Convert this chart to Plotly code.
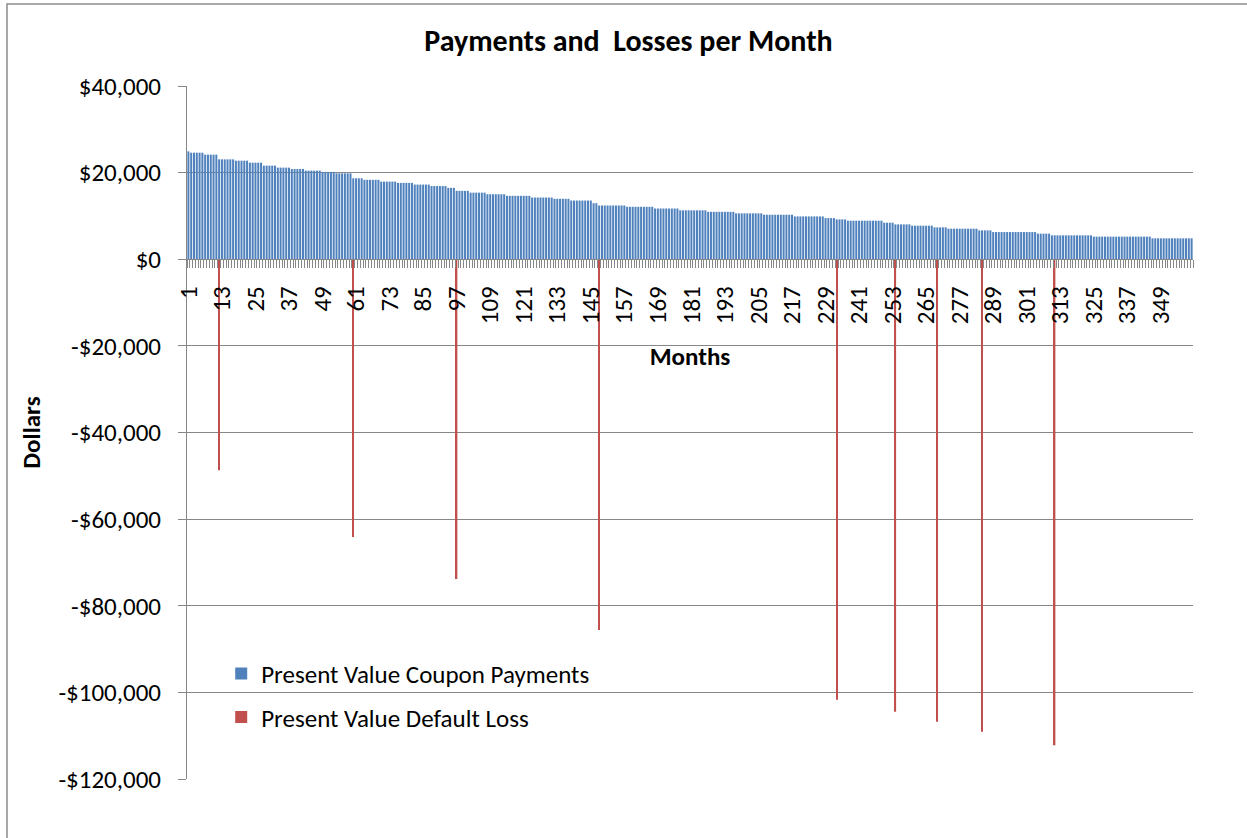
import plotly.graph_objects as go

# Present value coupon payments: plateau levels with the number of months at each level
coupon_levels = [24900, 24600, 24150, 23060, 22760, 22300, 21610, 21150, 20850, 20460,
                 20160, 19840, 18690, 18340, 17930, 17630, 17240, 16900, 16480, 15790,
                 15380, 15010, 14640, 14250, 13950, 13560, 12940, 12410, 12110, 11720,
                 11300, 10950, 10600, 10280, 9890, 9500, 9200, 8900, 8440, 8050,
                 7750, 7360, 7060, 6670, 6280, 5910, 5520, 5220, 4830]
coupon_months = [1, 5, 5, 6, 5, 5, 5, 5, 5, 6,
                 5, 6, 4, 6, 6, 6, 6, 6, 3, 5,
                 6, 7, 9, 8, 6, 8, 2, 10, 10, 9,
                 10, 10, 10, 11, 11, 4, 4, 13, 4, 6,
                 8, 5, 11, 5, 16, 5, 15, 21, 15]

# Present value default losses
default_months = [12, 60, 97, 148, 233, 254, 269, 285, 311]
default_losses = [-48700, -64100, -73800, -85600, -101700, -104500, -106800, -109100, -112200]

tick_months = list(range(1, 361, 12))
y_ticks = [40000, 20000, 0, -20000, -40000, -60000, -80000, -100000, -120000]
y_tick_text = ["$40,000", "$20,000", "$0", "-$20,000", "-$40,000", "-$60,000",
               "-$80,000", "-$100,000", "-$120,000"]

coupons = []
for lvl, n in zip(coupon_levels, coupon_months):
    coupons.extend([lvl] * n)
months = list(range(1, len(coupons) + 1))

FONT = "Carlito, Calibri, Lato, sans-serif"
GRID = "#878787"

fig = go.Figure()
fig.add_trace(go.Bar(x=months, y=coupons, name="Present Value Coupon Payments",
                     marker=dict(color="#4F81BD", line=dict(width=0)), width=0.72,
                     legendgroup="a"))
fig.add_trace(go.Bar(x=default_months, y=default_losses, name="Present Value Default Loss",
                     marker=dict(color="#C0504D", line=dict(width=0)), width=0.5,
                     legendgroup="b"))

fig.update_layout(
    width=1247, height=838,
    margin=dict(l=187, r=54, t=86, b=59),
    paper_bgcolor="white", plot_bgcolor="white",
    barmode="overlay",
    font=dict(family=FONT, size=25, color="black"),
    title=dict(text="<b>Payments and  Losses per Month</b>", x=0.504, xref="container",
               y=1 - 40 / 838, yref="container", yanchor="middle",
               font=dict(family=FONT, size=30, color="black")),
    showlegend=True,
    legend=dict(x=0.034, y=0.185, xanchor="left", yanchor="top", bgcolor="rgba(0,0,0,0)",
                traceorder="grouped", tracegroupgap=8, itemwidth=30,
                font=dict(size=25, family=FONT)),
    xaxis=dict(
        type="linear", range=[0.5, 360.5], anchor="free", position=0.75,
        tickvals=tick_months, ticktext=[str(m) for m in tick_months], tickangle=-90,
        ticks="outside", ticklen=16, tickcolor="rgba(0,0,0,0)",
        minor=dict(ticks="outside", tick0=0.5, dtick=1, ticklen=8, tickcolor=GRID, tickwidth=1,
                   showgrid=False),
        showline=True, linecolor=GRID, linewidth=1, showgrid=False, zeroline=False,
        tickfont=dict(size=25, family=FONT),
        title=dict(text="<b>Months</b>", standoff=24, font=dict(size=25, family=FONT)),
    ),
    yaxis=dict(
        range=[-120000, 40000], tickvals=y_ticks, ticktext=y_tick_text,
        ticks="outside", ticklen=8, tickcolor=GRID, ticklabelstandoff=12,
        showline=True, linecolor=GRID, linewidth=1,
        showgrid=True, gridcolor=GRID, gridwidth=1, zeroline=False,
        tickfont=dict(size=25, family=FONT),
        title=dict(text="<b>Dollars</b>", standoff=10, font=dict(size=25, family=FONT)),
    ),
    shapes=[dict(type="rect", xref="paper", yref="paper",
                 x0=(7 - 187) / 1006, x1=(1252 - 187) / 1006,
                 y0=(779 - 845) / 693, y1=(779 - 4) / 693,
                 line=dict(color="#8c8c8c", width=1.5), fillcolor="rgba(0,0,0,0)", layer="below")],
)

fig.write_html("out.html", config={"displayModeBar": False},
               post_script="document.body.style.margin='0px';")
